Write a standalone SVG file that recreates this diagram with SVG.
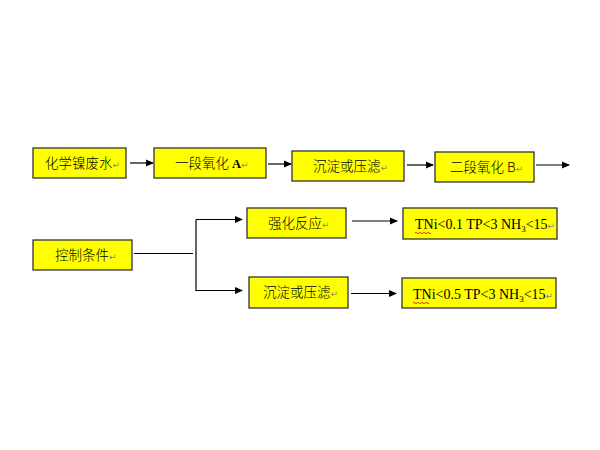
<svg xmlns="http://www.w3.org/2000/svg" width="600" height="450" viewBox="0 0 600 450">
<style>
.box{fill:#ffff00;stroke:#333;stroke-width:1.3}
.cjk{font-family:"Noto Sans CJK SC",sans-serif;font-weight:300;font-size:13.5px;fill:#000}
.ser{font-family:"Liberation Serif","Noto Sans CJK SC",serif;font-weight:normal;font-size:14px;fill:#000}
.rm{font-family:"DejaVu Sans",sans-serif;font-weight:normal;font-size:9px;fill:#888}
.ln{stroke:#000;stroke-width:1.2;fill:none}
</style>
<defs>
<marker id="ah" markerWidth="8" markerHeight="8" refX="7" refY="4" orient="auto" markerUnits="userSpaceOnUse">
<path d="M0,0.5 L8,4 L0,7.5 z" fill="#000"/>
</marker>
</defs>
<rect width="600" height="450" fill="#fff"/>
<g id="connectors">
<line class="ln" x1="130" y1="163" x2="153" y2="163" marker-end="url(#ah)"/>
<line class="ln" x1="268" y1="164" x2="291" y2="164" marker-end="url(#ah)"/>
<line class="ln" x1="407" y1="165" x2="433" y2="165" marker-end="url(#ah)"/>
<line class="ln" x1="536" y1="165" x2="569" y2="165" marker-end="url(#ah)"/>
<line class="ln" x1="134" y1="253.5" x2="193" y2="253.5"/>
<polyline class="ln" points="196,219.5 196,290.5 242,290.5" marker-end="url(#ah)"/>
<line class="ln" x1="196" y1="219.5" x2="242" y2="219.5" marker-end="url(#ah)"/>
<line class="ln" x1="352" y1="221" x2="397" y2="221" marker-end="url(#ah)"/>
<line class="ln" x1="351" y1="293.5" x2="396" y2="293.5" marker-end="url(#ah)"/>
</g>
<g id="n1">
<rect class="box" x="33" y="148" width="93" height="30"/>
<text class="cjk" x="45" y="168">化学镍废水<tspan class="rm">↵</tspan></text>
</g>
<g id="n2">
<rect class="box" x="154" y="148" width="112" height="30"/>
<text class="cjk" x="175" y="168">一段氧化 <tspan class="ser" style="font-weight:bold;font-size:12.5px">A</tspan><tspan class="rm">↵</tspan></text>
</g>
<g id="n3">
<rect class="box" x="292" y="151" width="112" height="30"/>
<text class="cjk" x="313" y="171">沉淀或压滤<tspan class="rm">↵</tspan></text>
</g>
<g id="n4">
<rect class="box" x="435" y="152" width="99" height="30"/>
<text class="cjk" x="450" y="172">二段氧化 B<tspan class="rm">↵</tspan></text>
</g>
<g id="n5">
<rect class="box" x="33" y="240" width="99" height="30"/>
<text class="cjk" x="55" y="260">控制条件<tspan class="rm">↵</tspan></text>
</g>
<g id="n6">
<rect class="box" x="247" y="208" width="99" height="30"/>
<text class="cjk" x="268" y="228">强化反应<tspan class="rm">↵</tspan></text>
</g>
<g id="n7">
<rect class="box" x="249" y="277" width="99" height="31"/>
<text class="cjk" x="263" y="297">沉淀或压滤<tspan class="rm">↵</tspan></text>
</g>
<g id="n8">
<rect class="box" x="403" y="208" width="154" height="31"/>
<text class="ser" x="415" y="229">TNi&lt;0.1 TP&lt;3 NH<tspan font-size="9px" dy="3">3</tspan><tspan dy="-3">&lt;15</tspan><tspan class="rm">↵</tspan></text>
<path d="M415,233 q1,-1.5 2,0 t2,0 t2,0 t2,0 t2,0 t2,0 t2,0 t2,0" stroke="#e00" stroke-width="0.8" fill="none"/>
</g>
<g id="n9">
<rect class="box" x="402" y="278" width="154" height="30"/>
<text class="ser" x="413" y="299">TNi&lt;0.5 TP&lt;3 NH<tspan font-size="9px" dy="3">3</tspan><tspan dy="-3">&lt;15</tspan><tspan class="rm">↵</tspan></text>
<path d="M413,303 q1,-1.5 2,0 t2,0 t2,0 t2,0 t2,0 t2,0 t2,0 t2,0" stroke="#e00" stroke-width="0.8" fill="none"/>
</g>
</svg>
